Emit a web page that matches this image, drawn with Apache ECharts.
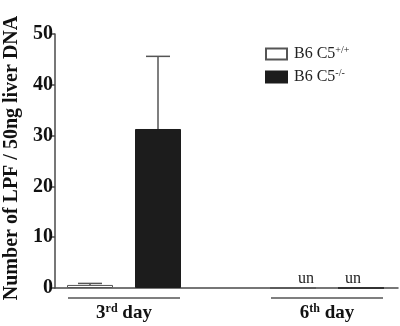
<!DOCTYPE html>
<html>
<head>
<meta charset="utf-8">
<script src="https://cdn.jsdelivr.net/npm/echarts@6/dist/echarts.min.js"></script>
<style>
  html, body { margin: 0; padding: 0; background: #fff; }
  #chart { width: 400px; height: 326px; }
</style>
</head>
<body>
<div id="chart"></div>
<script>
// data
const days = ['3rd day', '6th day'];
const daySup = { '3rd day': ['3', 'rd', ' day'], '6th day': ['6', 'th', ' day'] };
const wildMean = [0.6, 0];
const wildErr = [0.3, 0];
const knockMean = [31.3, 0];
const knockErr = [14.3, 0];
const undetected = [false, true]; // 'un' on 6th day
const yTicks = { min: 0, max: 50, step: 10 };

const serif = '"Liberation Serif", "DejaVu Serif", serif';
const axisColor = '#4a4a4a';
const barW = 46;
const barGapPx = 22;
const half = (barW + barGapPx) / 2;

const chart = echarts.init(document.getElementById('chart'));

function errorSeries(means, errs, side) {
  return {
    type: 'custom',
    xAxisIndex: 1,
    yAxisIndex: 1,
    silent: true,
    z: 1,
    data: means.map((m, i) => [i, m, errs[i]]),
    renderItem: (params, api) => {
      const err = api.value(2);
      if (!err) return null;
      const base = api.coord([api.value(0), api.value(1)]);
      const top = api.coord([api.value(0), api.value(1) + err]);
      const x = base[0] + side * half;
      const capW = 24;
      const style = { stroke: '#555', lineWidth: 1.5 };
      return {
        type: 'group',
        children: [
          { type: 'line', shape: { x1: x, y1: base[1], x2: x, y2: top[1] }, style },
          { type: 'line', shape: { x1: x - capW / 2, y1: top[1], x2: x + capW / 2, y2: top[1] }, style }
        ]
      };
    }
  };
}

function unLabel(dx) {
  return (v, i) => undetected[i]
    ? { value: v, label: { show: true, formatter: 'un', offset: [dx, 0] } }
    : v;
}

const option = {
  animation: false,
  grid: [
    { left: 55, right: 2, top: 34, bottom: 38, outerBoundsMode: 'none' },
    { left: 22.5, width: 406, top: 34, bottom: 38, outerBoundsMode: 'none' }
  ],
  legend: {
    orient: 'vertical',
    left: 260,
    top: 40,
    icon: 'rect',
    itemWidth: 21,
    itemHeight: 11,
    itemGap: 6,
    selectedMode: false,
    formatter: name => name === 'B6 C5+/+' ? '{t|B6 C5}{s|+/+}' : '{t|B6 C5}{s|-/-}',
    textStyle: {
      padding: [0, 0, 0, 2],
      rich: {
        t: { fontFamily: serif, fontSize: 16, color: '#222' },
        s: { fontFamily: serif, fontSize: 10, color: '#222', padding: [0, 0, 8, 0] }
      }
    },
    data: ['B6 C5+/+', 'B6 C5-/-']
  },
  xAxis: [
    {
      type: 'category',
      gridIndex: 0,
      data: days,
      axisLine: { lineStyle: { color: axisColor, width: 1.5 } },
      axisTick: { show: false },
      axisLabel: { show: false }
    },
    {
      type: 'category',
      gridIndex: 1,
      data: days,
      axisLine: { show: false },
      axisTick: { show: false },
      axisLabel: {
        margin: 5,
        formatter: v => {
          const p = daySup[v];
          return '{line|}\n{t|' + p[0] + '}{s|' + p[1] + '}{t|' + p[2] + '}';
        },
        rich: {
          line: { width: 112, height: 1.5, backgroundColor: '#555', lineHeight: 10 },
          t: { fontFamily: serif, fontWeight: 'bold', fontSize: 19, color: '#111', lineHeight: 20 },
          s: { fontFamily: serif, fontWeight: 'bold', fontSize: 12, color: '#111', padding: [0, 0, 9, 0] }
        }
      }
    }
  ],
  yAxis: [
    {
      type: 'value',
      gridIndex: 0,
      min: yTicks.min,
      max: yTicks.max,
      interval: yTicks.step,
      name: 'Number of LPF / 50ng liver DNA',
      nameLocation: 'middle',
      nameGap: 33,
      nameTextStyle: { fontFamily: serif, fontWeight: 'bold', fontSize: 20, color: '#111', padding: [0, 0, 0, 6] },
      axisLine: { show: true, lineStyle: { color: axisColor, width: 1.5 } },
      axisTick: { show: true, length: 4, lineStyle: { color: axisColor, width: 1.5 } },
      splitLine: { show: false },
      axisLabel: { margin: 2, fontFamily: serif, fontWeight: 'bold', fontSize: 20, color: '#111' }
    },
    {
      type: 'value',
      gridIndex: 1,
      min: yTicks.min,
      max: yTicks.max,
      interval: yTicks.step,
      show: false
    }
  ],
  series: [
    {
      name: 'B6 C5+/+',
      type: 'bar',
      xAxisIndex: 1,
      yAxisIndex: 1,
      barWidth: barW,
      barGap: (barGapPx / barW * 100) + '%',
      itemStyle: { color: '#fff', borderColor: '#555', borderWidth: 1 },
      label: { position: 'top', distance: 1, fontFamily: serif, fontSize: 16, color: '#222' },
      data: wildMean.map(unLabel(13))
    },
    {
      name: 'B6 C5-/-',
      type: 'bar',
      xAxisIndex: 1,
      yAxisIndex: 1,
      barWidth: barW,
      itemStyle: { color: '#1c1c1c', borderColor: '#1c1c1c', borderWidth: 1 },
      label: { position: 'top', distance: 1, fontFamily: serif, fontSize: 16, color: '#222' },
      data: knockMean.map(unLabel(-8))
    },
    errorSeries(wildMean, wildErr, -1),
    errorSeries(knockMean, knockErr, 1)
  ]
};

chart.setOption(option);
</script>
</body>
</html>
